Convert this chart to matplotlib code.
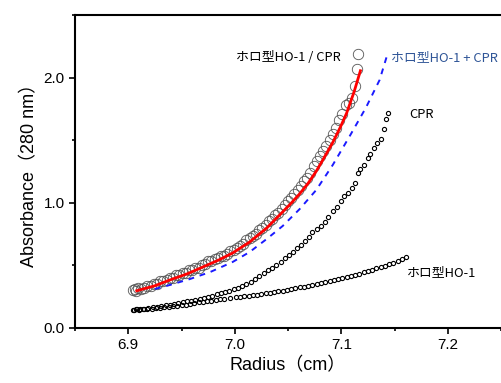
import numpy as np
import matplotlib
matplotlib.use('Agg')
import matplotlib.pyplot as plt
from matplotlib.ticker import MultipleLocator, FormatStrFormatter

# holo HO-1 / CPR complex (large open circles)
complex_x = [6.904, 6.906, 6.907, 6.909, 6.912, 6.915, 6.918, 6.921, 6.924, 6.927,
             6.930, 6.933, 6.936, 6.939, 6.942, 6.945, 6.948, 6.951, 6.954, 6.957,
             6.960, 6.963, 6.966, 6.969, 6.972, 6.975, 6.978, 6.981, 6.984, 6.987,
             6.990, 6.993, 6.996, 6.999, 7.002, 7.005, 7.008, 7.011, 7.014, 7.017,
             7.020, 7.023, 7.026, 7.029, 7.032, 7.035, 7.038, 7.041, 7.044, 7.047,
             7.050, 7.053, 7.056, 7.059, 7.062, 7.065, 7.068, 7.071, 7.074, 7.077,
             7.080, 7.083, 7.086, 7.089, 7.092, 7.095, 7.098, 7.101, 7.104, 7.107,
             7.110, 7.113, 7.115, 7.116]
complex_y = [0.30, 0.31, 0.29, 0.32, 0.31, 0.32, 0.33, 0.33, 0.35, 0.35,
             0.37, 0.37, 0.38, 0.40, 0.40, 0.42, 0.42, 0.44, 0.44, 0.46,
             0.46, 0.48, 0.48, 0.50, 0.51, 0.53, 0.53, 0.55, 0.56, 0.57,
             0.57, 0.59, 0.61, 0.62, 0.64, 0.65, 0.67, 0.70, 0.72, 0.73,
             0.75, 0.78, 0.80, 0.82, 0.85, 0.87, 0.90, 0.92, 0.95, 0.98,
             1.01, 1.04, 1.07, 1.10, 1.13, 1.17, 1.20, 1.24, 1.29, 1.33,
             1.37, 1.41, 1.45, 1.50, 1.55, 1.60, 1.66, 1.71, 1.78, 1.80,
             1.84, 1.93, 2.07, 2.19]

# fitted curve (red)
fit_x = [6.908, 6.925, 6.939, 6.955, 6.970, 6.985, 6.998, 7.014, 7.030, 7.045,
         7.053, 7.061, 7.069, 7.0765, 7.084, 7.092, 7.099, 7.105, 7.112, 7.118]
fit_y = [0.294, 0.334, 0.38, 0.428, 0.484, 0.540, 0.596, 0.684, 0.796, 0.925,
         0.995, 1.070, 1.155, 1.250, 1.360, 1.480, 1.600, 1.714, 1.884, 2.054]

# sum of HO-1 + CPR (blue dashed)
sum_x = [6.925, 6.939, 6.958, 6.977, 6.998, 7.014, 7.030, 7.045, 7.061, 7.0765, 7.092, 7.108, 7.123, 7.136, 7.144]
sum_y = [0.308, 0.340, 0.388, 0.444, 0.524, 0.604, 0.708, 0.812, 0.948, 1.100, 1.300, 1.532, 1.756, 1.98, 2.204]

# CPR alone
cpr_x = [6.905, 6.908, 6.911, 6.915, 6.919, 6.923, 6.927, 6.931, 6.935, 6.939,
         6.943, 6.947, 6.951, 6.955, 6.959, 6.963, 6.967, 6.971, 6.975, 6.979,
         6.983, 6.987, 6.991, 6.995, 6.999, 7.003, 7.007, 7.011, 7.015, 7.019,
         7.023, 7.027, 7.031, 7.035, 7.039, 7.043, 7.047, 7.051, 7.055, 7.058,
         7.062, 7.066, 7.070, 7.073, 7.077, 7.081, 7.085, 7.088, 7.092, 7.096,
         7.100, 7.103, 7.106, 7.110, 7.113, 7.116, 7.118, 7.121, 7.125, 7.127,
         7.131, 7.134, 7.137, 7.140, 7.142, 7.144]
cpr_y = [0.140, 0.146, 0.150, 0.152, 0.158, 0.162, 0.168, 0.172, 0.178, 0.184,
         0.190, 0.196, 0.202, 0.210, 0.216, 0.224, 0.232, 0.240, 0.248, 0.256,
         0.266, 0.276, 0.284, 0.296, 0.306, 0.318, 0.332, 0.346, 0.362, 0.388,
         0.414, 0.436, 0.460, 0.480, 0.502, 0.528, 0.556, 0.580, 0.606, 0.634,
         0.664, 0.690, 0.726, 0.762, 0.792, 0.812, 0.842, 0.884, 0.930, 0.966,
         1.010, 1.054, 1.080, 1.120, 1.160, 1.240, 1.268, 1.300, 1.360, 1.388,
         1.440, 1.476, 1.512, 1.588, 1.666, 1.716]

# holo HO-1 alone
ho1_x = [6.904, 6.907, 6.910, 6.914, 6.918, 6.922, 6.926, 6.930, 6.934, 6.938,
         6.942, 6.946, 6.950, 6.954, 6.958, 6.962, 6.966, 6.970, 6.974, 6.978,
         6.982, 6.986, 6.990, 6.996, 7.001, 7.005, 7.009, 7.013, 7.017, 7.021,
         7.025, 7.029, 7.033, 7.037, 7.041, 7.045, 7.049, 7.053, 7.057, 7.061,
         7.065, 7.069, 7.073, 7.077, 7.081, 7.085, 7.089, 7.093, 7.097, 7.101,
         7.105, 7.109, 7.113, 7.117, 7.121, 7.125, 7.129, 7.133, 7.137, 7.141,
         7.145, 7.149, 7.153, 7.157, 7.161]
ho1_y = [0.138, 0.145, 0.142, 0.147, 0.146, 0.152, 0.155, 0.160, 0.163, 0.166,
         0.170, 0.172, 0.178, 0.183, 0.190, 0.198, 0.202, 0.206, 0.212, 0.214,
         0.220, 0.225, 0.232, 0.236, 0.242, 0.246, 0.250, 0.254, 0.258, 0.262,
         0.268, 0.274, 0.278, 0.284, 0.290, 0.296, 0.302, 0.308, 0.316, 0.322,
         0.328, 0.334, 0.342, 0.350, 0.356, 0.362, 0.372, 0.380, 0.388, 0.396,
         0.404, 0.414, 0.424, 0.432, 0.442, 0.452, 0.462, 0.474, 0.486, 0.494,
         0.508, 0.520, 0.532, 0.548, 0.562]

lbl_font = ['Liberation Sans', 'Noto Sans CJK JP']
jp_font = ['Noto Sans CJK JP', 'DejaVu Sans']

fig = plt.figure(figsize=(5.01, 3.83), dpi=100)
ax = fig.add_axes([75/501, (383-327.5)/383, 1 - 75/501, (327.5-15)/383])

ax.plot(ho1_x, ho1_y, 'o', ms=3.0, mfc='none', mec='black', mew=0.8)
ax.plot(cpr_x, cpr_y, 'o', ms=3.0, mfc='none', mec='black', mew=0.8)
ax.plot(complex_x, complex_y, 'o', ms=7.5, mfc='none', mec='#555555', mew=0.6)
ax.plot(sum_x, sum_y, '--', color='#1a1aff', lw=1.4, dashes=(3, 3))
ax.plot(fit_x, fit_y, '-', color='red', lw=2)

ax.set_xlim(6.85, 7.25)
ax.set_ylim(0, 2.5)
ax.xaxis.set_major_locator(MultipleLocator(0.1))
ax.xaxis.set_minor_locator(MultipleLocator(0.05))
ax.yaxis.set_major_locator(MultipleLocator(1.0))
ax.yaxis.set_minor_locator(MultipleLocator(0.5))
ax.xaxis.set_major_formatter(FormatStrFormatter('%.1f'))
ax.yaxis.set_major_formatter(FormatStrFormatter('%.1f'))

for s in ['left', 'bottom', 'top']:
    ax.spines[s].set_linewidth(1.5)
ax.spines['right'].set_visible(False)
ax.tick_params(which='major', length=4.5, width=1.2, labelsize=11, pad=3)
ax.tick_params(which='minor', length=2.5, width=1.2)
for t in ax.get_xticklabels() + ax.get_yticklabels():
    t.set_family(lbl_font)

ax.set_xlabel('Radius（cm）', fontsize=13, family=lbl_font, labelpad=4)
ax.set_ylabel('Absorbance（280 nm）', fontsize=13, family=lbl_font, labelpad=4)

ax.text(7.001, 2.16, 'ホロ型HO-1 / CPR', fontsize=9.3, family=jp_font, va='center', zorder=1)
ax.text(7.147, 2.16, 'ホロ型HO-1 + CPR', fontsize=9.3, family=jp_font, va='center', color='#2F5597')
ax.text(7.164, 1.70, 'CPR', fontsize=9.3, family=jp_font, va='center')
ax.text(7.162, 0.44, 'ホロ型HO-1', fontsize=9.3, family=jp_font, va='center')

fig.savefig('out.png', dpi=100)
